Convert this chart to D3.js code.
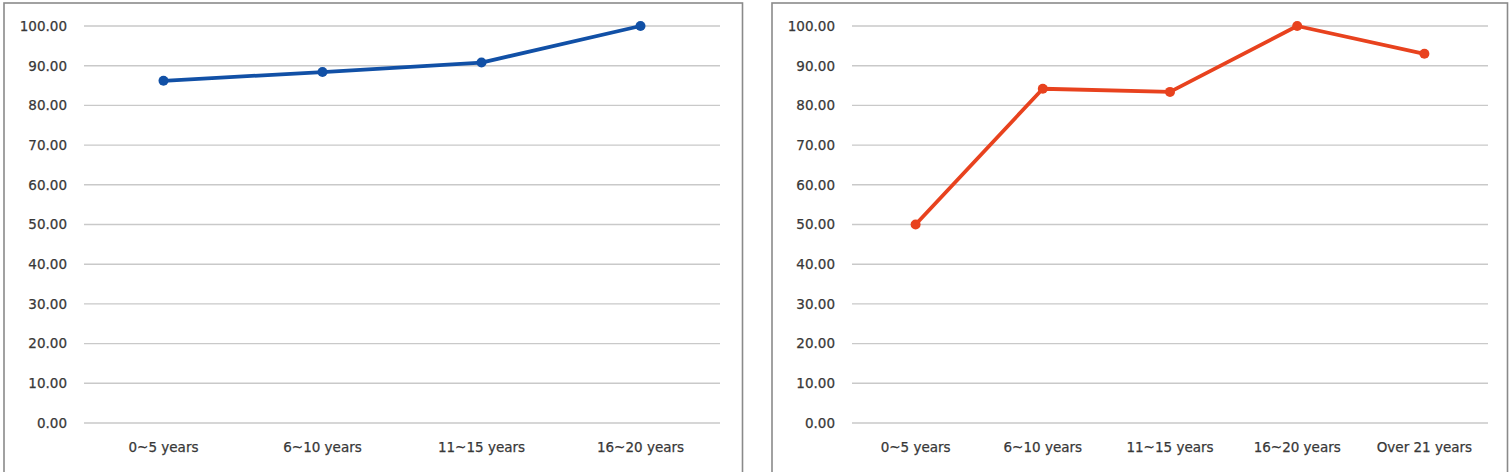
<!DOCTYPE html>
<html>
<head>
<meta charset="utf-8">
<script src="https://cdn.jsdelivr.net/npm/d3@7/dist/d3.min.js"></script>
<style>
html,body{margin:0;padding:0;background:#fff;}
svg{display:block;}
</style>
</head>
<body>
<svg id="chart" width="1510" height="472"></svg>
<script>
const leftCategories = ["0~5 years","6~10 years","11~15 years","16~20 years"];
const leftValues = [86.2, 88.4, 90.8, 100.0];
const rightCategories = ["0~5 years","6~10 years","11~15 years","16~20 years","Over 21 years"];
const rightValues = [50.0, 84.2, 83.4, 100.0, 93.0];
const yTicks = [0,10,20,30,40,50,60,70,80,90,100];

const svg = d3.select("#chart");
const FONT = "'DejaVu Sans', Verdana, sans-serif";

const panels = [
  {frame:[4,3,738.5], plot:[84,720], cats:leftCategories, vals:leftValues, color:"#1150A6"},
  {frame:[772,3,735.5], plot:[852,1488], cats:rightCategories, vals:rightValues, color:"#E8421E"}
];
const yTop = 26, yBottom = 423;

panels.forEach(p => {
  const g = svg.append("g");
  g.append("rect")
    .attr("x", p.frame[0]).attr("y", p.frame[1])
    .attr("width", p.frame[2]).attr("height", 500)
    .attr("fill", "none").attr("stroke", "#8a8a8a").attr("stroke-width", 1.6);

  const x = d3.scaleBand().domain(p.cats).range(p.plot).paddingInner(0).paddingOuter(0);
  const y = d3.scaleLinear().domain([0,100]).range([yBottom, yTop]);

  g.append("g").selectAll("line").data(yTicks).join("line")
    .attr("x1", p.plot[0]).attr("x2", p.plot[1])
    .attr("y1", d => y(d)).attr("y2", d => y(d))
    .attr("stroke", "#c9c9c9").attr("stroke-width", 1.4);

  const yAxis = d3.axisLeft(y).tickValues(yTicks).tickFormat(d3.format(".2f")).tickSize(0).tickPadding(17);
  const ya = g.append("g").attr("transform", `translate(${p.plot[0]},0)`).call(yAxis);
  ya.select(".domain").remove();
  ya.selectAll("text").attr("font-family", FONT).attr("font-size", 13.5).attr("fill", "#383838")
    .attr("stroke", "#383838").attr("stroke-width", 0.25);

  const xAxis = d3.axisBottom(x).tickSize(0).tickPadding(19);
  const xa = g.append("g").attr("transform", `translate(0,${yBottom})`).call(xAxis);
  xa.select(".domain").remove();
  xa.selectAll("text").attr("font-family", FONT).attr("font-size", 13.5).attr("fill", "#383838")
    .attr("stroke", "#383838").attr("stroke-width", 0.25);

  const pts = p.cats.map((c,i) => ({c, v:p.vals[i]}));
  const line = d3.line().x(d => x(d.c) + x.bandwidth()/2).y(d => y(d.v));
  g.append("path").datum(pts).attr("d", line)
    .attr("fill", "none").attr("stroke", p.color).attr("stroke-width", 3.8)
    .attr("stroke-linejoin", "round").attr("stroke-linecap", "round");
  g.append("g").selectAll("circle").data(pts).join("circle")
    .attr("cx", d => x(d.c) + x.bandwidth()/2).attr("cy", d => y(d.v))
    .attr("r", 5).attr("fill", p.color);
});
</script>
</body>
</html>
